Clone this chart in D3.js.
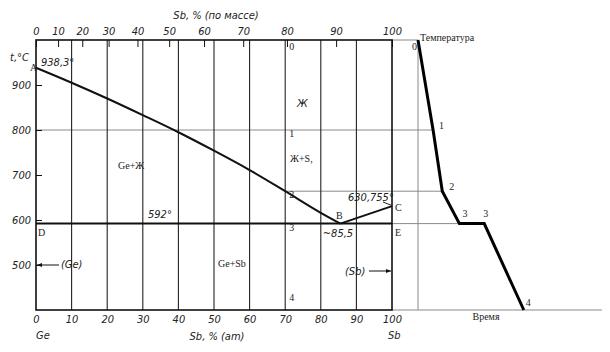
<!DOCTYPE html>
<html lang="ru">
<head>
<meta charset="utf-8">
<title>Ge-Sb</title>
<script src="https://d3js.org/d3.v7.min.js"></script>
<style>
  body { margin: 0; background: #fff; }
  .num { font-family: "Liberation Sans Narrow", "DejaVu Sans Condensed", sans-serif; font-style: italic; font-size: 11px; fill: #222; }
  .ser { font-family: "Liberation Serif", serif; font-size: 10px; fill: #222; }
  .axis path, .axis line { stroke: #111; }
</style>
</head>
<body>
<div id="chart"></div>
<script>
// composition ticks, at.% Sb (bottom)
const atTicks = [0, 10, 20, 30, 40, 50, 60, 70, 80, 90, 100];
// mass % ticks (top) and their position in at.%
const wtLabels = [0, 10, 20, 30, 40, 50, 60, 70, 80, 90, 100];
const wtAtPos = [0, 6.2, 13, 20.4, 28.5, 37.4, 47.2, 58.2, 70.5, 84.3, 100];
const tempTicks = [500, 600, 700, 800, 900];

// liquidus Ge side: [at.% Sb, t °C]
const liqGe = [[0, 938.3], [10, 905], [20, 870], [30, 833], [40, 795], [50, 754], [60, 711], [70, 664], [80, 616], [85.5, 592]];
// liquidus Sb side
const liqSb = [[85.5, 592], [100, 630.755]];
const eutT = 592;
const alloy = 70;
// alloy points 0..4 on the 70 at.% line
const alloyPts = [["0", 1000], ["1", 800], ["2", 664], ["3", 592], ["4", 400]];

// cooling curve: [time, t °C, label]
const cooling = [[0, 1000, "0"], [8.2, 800, "1"], [13.2, 664, "2"], [22.5, 592, "3"], [36, 592, "3"], [57.5, 400, "4"]];

const W = 610, H = 352;
const x = d3.scaleLinear().domain([0, 100]).range([36, 392]);
const y = d3.scaleLinear().domain([400, 1000]).range([310, 40]);
const tx = d3.scaleLinear().domain([0, 100]).range([418, 602]);

const svg = d3.select("#chart").append("svg").attr("width", W).attr("height", H);

// guide lines to the cooling curve (gray)
const gray = "#8a8a8a";
svg.append("line").attr("x1", x(100)).attr("x2", tx(0)).attr("y1", y(1000)).attr("y2", y(1000)).attr("stroke", gray);
svg.append("line").attr("x1", x(0)).attr("x2", tx(cooling[1][0])).attr("y1", y(800)).attr("y2", y(800)).attr("stroke", gray);
svg.append("line").attr("x1", x(alloy)).attr("x2", tx(cooling[2][0])).attr("y1", y(664)).attr("y2", y(664)).attr("stroke", gray);
svg.append("line").attr("x1", x(100)).attr("x2", tx(cooling[3][0])).attr("y1", y(eutT)).attr("y2", y(eutT)).attr("stroke", gray);
// cooling axes
svg.append("line").attr("x1", tx(0)).attr("x2", tx(0)).attr("y1", y(1000)).attr("y2", y(400)).attr("stroke", gray);
svg.append("line").attr("x1", x(100)).attr("x2", tx(100)).attr("y1", y(400)).attr("y2", y(400)).attr("stroke", gray);

// vertical grid
svg.append("g").selectAll("line").data(atTicks.slice(1, -1)).join("line")
  .attr("x1", d => x(d)).attr("x2", d => x(d))
  .attr("y1", y(1000)).attr("y2", y(400))
  .attr("stroke", "#222").attr("stroke-width", 1.1);

// frame
svg.append("rect").attr("x", x(0)).attr("y", y(1000))
  .attr("width", x(100) - x(0)).attr("height", y(400) - y(1000))
  .attr("fill", "none").attr("stroke", "#111").attr("stroke-width", 1.6);

// axes
svg.append("g").attr("class", "axis num").attr("transform", `translate(${x(0)},0)`)
  .call(d3.axisLeft(y).tickValues(tempTicks).tickSize(-6).tickPadding(5))
  .call(g => g.select(".domain").remove())
  .selectAll("text").attr("class", "num");

svg.append("g").attr("class", "axis").attr("transform", `translate(0,${y(1000)})`)
  .call(d3.axisTop(x).tickValues(wtAtPos).tickFormat((d, i) => wtLabels[i]).tickSize(-7).tickPadding(5))
  .call(g => g.select(".domain").remove())
  .selectAll("text").attr("class", "num");

svg.append("g").attr("class", "axis").attr("transform", `translate(0,${y(400)})`)
  .call(d3.axisBottom(x).tickValues(atTicks).tickSize(0).tickPadding(5))
  .call(g => g.select(".domain").remove())
  .selectAll("text").attr("class", "num");

// liquidus
const line = d3.line().x(d => x(d[0])).y(d => y(d[1])).curve(d3.curveMonotoneX);
svg.append("path").attr("d", line(liqGe)).attr("fill", "none").attr("stroke", "#111").attr("stroke-width", 2);
svg.append("path").attr("d", line(liqSb)).attr("fill", "none").attr("stroke", "#111").attr("stroke-width", 2);
// eutectic line
svg.append("line").attr("x1", x(0)).attr("x2", x(100)).attr("y1", y(eutT)).attr("y2", y(eutT))
  .attr("stroke", "#111").attr("stroke-width", 2);

// cooling curve
svg.append("path").attr("d", d3.line().x(d => tx(d[0])).y(d => y(d[1]))(cooling))
  .attr("fill", "none").attr("stroke", "#000").attr("stroke-width", 3);

// labels
function txt(cls, s, px, py, anchor) {
  return svg.append("text").attr("class", cls).attr("x", px).attr("y", py)
    .attr("text-anchor", anchor || "start").text(s);
}
txt("num", "Sb, % (по массе)", 216, 19, "middle");
txt("num", "t,°C", 10, 61);
txt("num", "938,3°", 41, 66);
txt("ser", "A", 30, 71);
txt("num", "Ge", 36, 339);
txt("num", "Sb, % (am)", 217, 340, "middle");
txt("num", "Sb", 388, 339);
txt("num", "592°", 148, 218);
txt("num", "630,755°", 348, 201);
svg.append("line").attr("x1", 383).attr("y1", 202).attr("x2", x(100) - 1).attr("y2", y(630.755) - 1).attr("stroke", "#222");
txt("num", "~85,5", 338, 237, "middle");
txt("ser", "B", 336, 219);
txt("ser", "C", 395, 211);
txt("ser", "D", 38, 236);
txt("ser", "E", 395, 236);
txt("num", "Ж", 297, 107);
txt("ser", "Ж+S,", 290, 162);
txt("ser", "Ge+Ж", 118, 169);
txt("ser", "Ge+Sb", 218, 267);
txt("num", "(Ge)", 61, 268);
txt("num", "(Sb)", 345, 275);
txt("ser", "Температура", 420, 41);
txt("ser", "Время", 486, 320, "middle");

// arrows
svg.append("defs").append("marker").attr("id", "ar").attr("viewBox", "0 0 10 10")
  .attr("refX", 10).attr("refY", 5).attr("markerWidth", 7).attr("markerHeight", 5).attr("orient", "auto")
  .append("path").attr("d", "M0,1L10,5L0,9Z").attr("fill", "#111");
svg.append("line").attr("x1", 59).attr("x2", x(0) + 1).attr("y1", y(500)).attr("y2", y(500))
  .attr("stroke", "#111").attr("marker-end", "url(#ar)");
svg.append("line").attr("x1", 369).attr("x2", x(100) - 1).attr("y1", 271).attr("y2", 271)
  .attr("stroke", "#111").attr("marker-end", "url(#ar)");

// alloy point numbers
svg.append("g").selectAll("text").data(alloyPts).join("text").attr("class", "ser")
  .attr("x", x(alloy) + 4).attr("y", d => Math.min(y(d[1]) + 10, y(400) - 6))
  .attr("dy", d => d[0] === "0" ? 0 : -3)
  .text(d => d[0]);

// cooling curve point numbers
const cOff = [[-6, 10], [6, -1], [7, -1], [3, -7], [-1, -7], [2, -4]];
svg.append("g").selectAll("text").data(cooling).join("text").attr("class", "ser")
  .attr("x", (d, i) => tx(d[0]) + cOff[i][0]).attr("y", (d, i) => y(d[1]) + cOff[i][1])
  .text(d => d[2]);
</script>
</body>
</html>
